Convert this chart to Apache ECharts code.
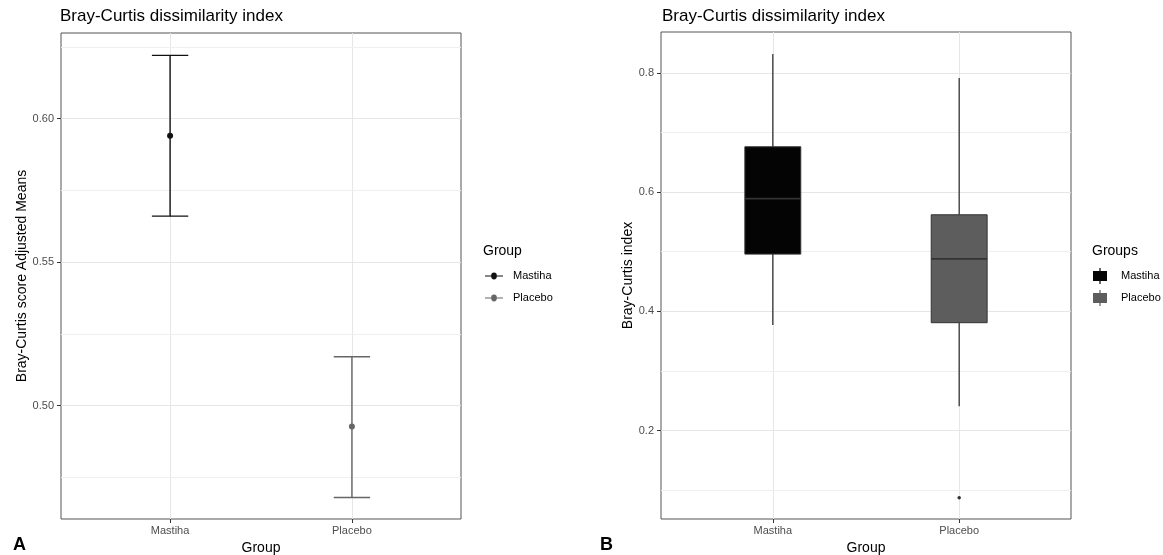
<!DOCTYPE html>
<html><head><meta charset="utf-8">
<script src="https://cdn.jsdelivr.net/npm/echarts@6/dist/echarts.min.js"></script>
<style>html,body{margin:0;padding:0;background:#fff}#c{width:1163px;height:555px}</style>
</head><body><div id="c"></div>
<script>
// ---- data ----
const groups = ['Mastiha', 'Placebo'];
const xPos = [1, 2];
// Panel A: adjusted means with error bars
const meansA = [0.594, 0.4927];
const lowerA = [0.566, 0.468];
const upperA = [0.622, 0.517];
const yTicksA = [0.50, 0.55, 0.60];
const yMinorA = [0.475, 0.525, 0.575, 0.625];
// Panel B: boxplots
const boxMin = [0.377, 0.241];
const boxQ1 = [0.496, 0.381];
const boxMed = [0.589, 0.488];
const boxQ3 = [0.676, 0.562];
const boxMax = [0.8315, 0.7913];
const outliersB = [[2, 0.0876]];
const yTicksB = [0.2, 0.4, 0.6, 0.8];
const yMinorB = [0.1, 0.3, 0.5, 0.7];

const FONT = 'Liberation Sans, Arial, Helvetica, sans-serif';
const colorsA = ['#111111', '#666666'];
const fillsB = ['#040404', '#5d5d5d'];

const chart = echarts.init(document.getElementById('c'), null, {renderer: 'canvas'});

function errRender(params, api) {
  const x = api.value(0), m = api.value(1), lo = api.value(2), hi = api.value(3);
  const c = api.visual('color');
  const top = api.coord([x, hi]), bot = api.coord([x, lo]), mid = api.coord([x, m]);
  const hw = api.size([0.1, 0])[0];
  const st = {stroke: c, lineWidth: 1.4, fill: null};
  return {type: 'group', children: [
    {type: 'line', shape: {x1: top[0], y1: top[1], x2: bot[0], y2: bot[1]}, style: st},
    {type: 'line', shape: {x1: top[0] - hw, y1: top[1], x2: top[0] + hw, y2: top[1]}, style: st},
    {type: 'line', shape: {x1: bot[0] - hw, y1: bot[1], x2: bot[0] + hw, y2: bot[1]}, style: st},
    {type: 'circle', shape: {cx: mid[0], cy: mid[1], r: 3}, style: {fill: c}}
  ]};
}

function boxRender(params, api) {
  const x = api.value(0);
  const pMin = api.coord([x, api.value(1)]);
  const pQ1 = api.coord([x, api.value(2)]);
  const pMed = api.coord([x, api.value(3)]);
  const pQ3 = api.coord([x, api.value(4)]);
  const pMax = api.coord([x, api.value(5)]);
  const hw = api.size([0.15, 0])[0];
  const fill = api.visual('color');
  const lc = '#333333';
  return {type: 'group', children: [
    {type: 'line', shape: {x1: pMax[0], y1: pMax[1], x2: pQ3[0], y2: pQ3[1]}, style: {stroke: lc, lineWidth: 1.3}},
    {type: 'line', shape: {x1: pQ1[0], y1: pQ1[1], x2: pMin[0], y2: pMin[1]}, style: {stroke: lc, lineWidth: 1.3}},
    {type: 'rect', shape: {x: pQ3[0] - hw, y: pQ3[1], width: 2 * hw, height: pQ1[1] - pQ3[1]}, style: {fill: fill, stroke: lc, lineWidth: 1}},
    {type: 'line', shape: {x1: pMed[0] - hw, y1: pMed[1], x2: pMed[0] + hw, y2: pMed[1]}, style: {stroke: lc, lineWidth: 1.6}}
  ]};
}

function gridMarks(ys) {
  return {
    silent: true, symbol: 'none', z: 1, animation: false, precision: 6,
    label: {show: false},
    lineStyle: {color: '#efefef', width: 1, type: 'solid'},
    emphasis: {disabled: true},
    data: ys.map(v => ({yAxis: v}))
  };
}

const lineDotIcon = 'path://M0,4.4 H6.2 A2.8,2.8 0 0 1 11.8,4.4 H18 V5.6 H11.8 A2.8,2.8 0 0 1 6.2,5.6 H0 Z';
const boxIcon = 'path://M6.4,0 H7.6 V3 H14 V13 H7.6 V16 H6.4 V13 H0 V3 H6.4 Z';

const axisLabelBase = {color: '#4d4d4d', fontSize: 11, fontFamily: FONT};
const tickBase = {show: true, length: 4, lineStyle: {color: '#333333', width: 1}};
const splitBase = {show: true, lineStyle: {color: '#e6e6e6', width: 1}};
const nameStyle = {color: '#000', fontSize: 14, fontFamily: FONT};
const titleStyle = (size, weight) => ({fontSize: size, fontWeight: weight, color: '#000', fontFamily: FONT});

const series = [];
groups.forEach((g, i) => {
  series.push({
    name: g, type: 'custom', xAxisIndex: 0, yAxisIndex: 0, z: 3,
    itemStyle: {color: colorsA[i]},
    renderItem: errRender,
    encode: {x: 0, y: [1, 2, 3]},
    data: [[xPos[i], meansA[i], lowerA[i], upperA[i]]],
    markLine: i === 0 ? gridMarks(yMinorA) : undefined
  });
});
groups.forEach((g, i) => {
  series.push({
    name: 'B:' + g, type: 'custom', xAxisIndex: 1, yAxisIndex: 1, z: 3,
    itemStyle: {color: fillsB[i], borderColor: '#333'},
    renderItem: boxRender,
    encode: {x: 0, y: [1, 2, 3, 4, 5]},
    data: [[xPos[i], boxMin[i], boxQ1[i], boxMed[i], boxQ3[i], boxMax[i]]],
    markLine: i === 0 ? gridMarks(yMinorB) : undefined
  });
});
series.push({
  name: 'outliers', type: 'scatter', xAxisIndex: 1, yAxisIndex: 1, z: 4,
  symbolSize: 3.5, itemStyle: {color: '#000'}, data: outliersB
});

const option = {
  backgroundColor: '#fff',
  animation: false,
  textStyle: {fontFamily: FONT},
  title: [
    {text: 'Bray-Curtis dissimilarity index', left: 60, top: 8, padding: 0, textStyle: titleStyle(17, 'normal')},
    {text: 'Bray-Curtis dissimilarity index', left: 662, top: 8, padding: 0, textStyle: titleStyle(17, 'normal')},
    {text: 'Group', left: 483, top: 244, padding: 0, textStyle: titleStyle(14, 'normal')},
    {text: 'Groups', left: 1092, top: 244, padding: 0, textStyle: titleStyle(14, 'normal')},
    {text: 'A', left: 13, top: 536, padding: 0, textStyle: titleStyle(18, 'bold')},
    {text: 'B', left: 600, top: 536, padding: 0, textStyle: titleStyle(18, 'bold')}
  ],
  legend: [
    {
      orient: 'vertical', left: 485, top: 270, padding: 0, itemGap: 10,
      itemWidth: 18, itemHeight: 7,
      data: groups.map(g => ({name: g, icon: lineDotIcon})),
      textStyle: {fontSize: 11, color: '#000', fontFamily: FONT, padding: [0, 0, 0, 5], lineHeight: 12},
      selectedMode: false
    },
    {
      orient: 'vertical', left: 1093, top: 268, padding: 0, itemGap: 6,
      itemWidth: 14, itemHeight: 16,
      data: groups.map(g => ({name: 'B:' + g, icon: boxIcon})),
      formatter: n => n.replace('B:', ''),
      textStyle: {fontSize: 11, color: '#000', fontFamily: FONT, padding: [0, 0, 0, 9], lineHeight: 12},
      selectedMode: false
    }
  ],
  grid: [
    {left: 61, top: 33, width: 400, height: 486, outerBoundsMode: 'none', containLabel: false, show: true, borderColor: '#555', borderWidth: 1, backgroundColor: 'transparent', z: 0},
    {left: 661, top: 32, width: 410, height: 487, outerBoundsMode: 'none', containLabel: false, show: true, borderColor: '#555', borderWidth: 1, backgroundColor: 'transparent', z: 0}
  ],
  xAxis: [
    {gridIndex: 0, type: 'value', min: 0.4, max: 2.6,
      axisLine: {show: false},
      axisTick: Object.assign({customValues: xPos}, tickBase),
      axisLabel: Object.assign({customValues: xPos, formatter: v => groups[Math.round(v) - 1], margin: 6}, axisLabelBase),
      splitLine: splitBase,
      name: 'Group', nameLocation: 'middle', nameGap: 21, nameTextStyle: nameStyle},
    {gridIndex: 1, type: 'value', min: 0.4, max: 2.6,
      axisLine: {show: false},
      axisTick: Object.assign({customValues: xPos}, tickBase),
      axisLabel: Object.assign({customValues: xPos, formatter: v => groups[Math.round(v) - 1], margin: 6}, axisLabelBase),
      splitLine: splitBase,
      name: 'Group', nameLocation: 'middle', nameGap: 21, nameTextStyle: nameStyle}
  ],
  yAxis: [
    {gridIndex: 0, type: 'value', min: 0.4605, max: 0.6298,
      axisLine: {show: false},
      axisTick: Object.assign({customValues: yTicksA}, tickBase),
      axisLabel: Object.assign({customValues: yTicksA, formatter: v => v.toFixed(2), margin: 7}, axisLabelBase),
      splitLine: splitBase,
      name: 'Bray-Curtis score Adjusted Means', nameLocation: 'middle', nameGap: 32, nameRotate: 90, nameTextStyle: nameStyle},
    {gridIndex: 1, type: 'value', min: 0.0518, max: 0.8685,
      axisLine: {show: false},
      axisTick: Object.assign({customValues: yTicksB}, tickBase),
      axisLabel: Object.assign({customValues: yTicksB, formatter: v => v.toFixed(1), margin: 7}, axisLabelBase),
      splitLine: splitBase,
      name: 'Bray-Curtis index', nameLocation: 'middle', nameGap: 26, nameRotate: 90, nameTextStyle: nameStyle}
  ],
  series: series
};
chart.setOption(option);
</script>
</body></html>
